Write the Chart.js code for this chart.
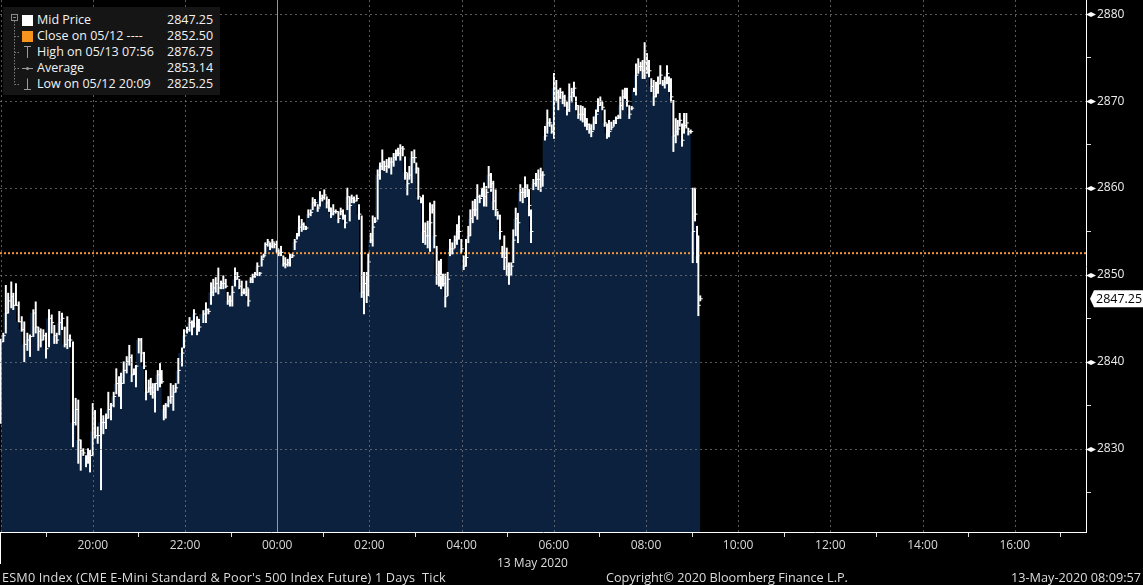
<!DOCTYPE html>
<html>
<head>
<meta charset="utf-8">
<script src="https://cdn.jsdelivr.net/npm/chart.js@4.4.1/dist/chart.umd.min.js"></script>
<style>
html,body{margin:0;padding:0;background:#000;}
#wrap{position:relative;width:1143px;height:585px;overflow:hidden;background:#000;font-family:"Open Sans",sans-serif;}
#c{position:absolute;left:0;top:0;}
.t{position:absolute;white-space:pre;font-size:12px;line-height:16px;color:#dcdcdc;}
.f{position:absolute;white-space:pre;font-size:12.7px;line-height:16px;color:#dcdcdc;}
.lt{position:absolute;white-space:pre;font-size:12.5px;line-height:16px;color:#f2f2f2;}
#leg{position:absolute;left:3px;top:7px;width:217px;height:88px;background:#151515;}
</style>
</head>
<body>
<div id="wrap">
  <canvas id="c" width="1143" height="585" style="width:1143px;height:585px"></canvas>
  <div id="leg"></div>
  <svg style="position:absolute;left:0;top:0" width="40" height="100">
    <rect x="11.5" y="14.5" width="6" height="6" fill="none" stroke="#8a8a8a" stroke-width="1"/>
    <line x1="13" y1="17.5" x2="16" y2="17.5" stroke="#8a8a8a" stroke-width="1"/>
    <line x1="14.5" y1="21" x2="14.5" y2="84.5" stroke="#7a7a7a" stroke-width="1" stroke-dasharray="1.5,1.5"/>
    <line x1="14.5" y1="36.5" x2="20" y2="36.5" stroke="#7a7a7a" stroke-width="1" stroke-dasharray="1.5,1.5"/>
    <line x1="14.5" y1="52.5" x2="20" y2="52.5" stroke="#7a7a7a" stroke-width="1" stroke-dasharray="1.5,1.5"/>
    <line x1="14.5" y1="68.5" x2="20" y2="68.5" stroke="#7a7a7a" stroke-width="1" stroke-dasharray="1.5,1.5"/>
    <line x1="14.5" y1="84.5" x2="20" y2="84.5" stroke="#7a7a7a" stroke-width="1" stroke-dasharray="1.5,1.5"/>
    <rect x="22" y="15" width="11" height="11" fill="#ffffff"/>
    <rect x="22" y="31" width="11" height="11" fill="#f7941d"/>
    <line x1="24" y1="46.5" x2="31" y2="46.5" stroke="#9a9a9a" stroke-width="1"/>
    <line x1="27.5" y1="46.5" x2="27.5" y2="58" stroke="#9a9a9a" stroke-width="1"/>
    <line x1="22" y1="68.5" x2="33" y2="68.5" stroke="#9a9a9a" stroke-width="1"/>
    <circle cx="27.5" cy="68.5" r="1.6" fill="#9a9a9a"/>
    <line x1="27.5" y1="78.5" x2="27.5" y2="89.5" stroke="#9a9a9a" stroke-width="1"/>
    <line x1="24" y1="89.5" x2="31" y2="89.5" stroke="#9a9a9a" stroke-width="1"/>
  </svg>
  <div class="lt" id="l1" style="left:37px;top:12px"></div><div class="lt" id="v1" style="left:167px;top:12px"></div>
  <div class="lt" id="l2" style="left:37px;top:28px"></div><div class="lt" id="v2" style="left:167px;top:28px"></div>
  <div class="lt" id="l3" style="left:37px;top:44px"></div><div class="lt" id="v3" style="left:167px;top:44px"></div>
  <div class="lt" id="l4" style="left:37px;top:60px"></div><div class="lt" id="v4" style="left:167px;top:60px"></div>
  <div class="lt" id="l5" style="left:37px;top:76px"></div><div class="lt" id="v5" style="left:167px;top:76px"></div>
  <div class="t" id="dateLbl" style="left:497px;top:555px"></div>
  <div class="f" id="foot1" style="left:2px;top:569px;letter-spacing:0.17px"></div>
  <div class="f" id="foot2" style="left:606px;top:569px"></div>
  <div class="f" id="foot3" style="right:2px;top:569px"></div>
</div>
<script>
// ---------------- DATA ----------------
// minutes after 18:00 on 12 May (bar timestamps)
const barTimes = [
0,3.5,6.8,9.8,13.9,16.5,20.0,23.6,27.5,30.8,34.8,38.3,42.6,45.7,49.1,52.2,55.6,59.1,63.0,66.5,
69.9,73.0,76.4,79.9,83.4,86.8,90.3,94.2,97.7,101.1,104.3,107.6,111.2,113.8,116.4,119.9,122.9,126.4,130.7,133.7,
137.2,140.2,143.7,147.2,150.6,154.1,156.7,160.2,164.1,167.5,170.6,173.6,176.2,179.8,183.1,186.7,189.3,192.8,195.4,198.0,
201.0,204.5,207.5,209.6,212.4,214.9,218.3,221.4,224.8,227.9,231.3,
236.1,238.7,242.6,245.9,249.1,251.7,255.7,
258.2,263.9,267.3,270.4,273.9,276.8,280.0,283.4,286.9,289.9,293.0,295.6,298.6,301.6,305.1,308.1,310.7,313.8,316.8,319.8,
322.4,325.5,328.1,331.1,334.1,337.2,339.8,342.4,344.5,347.7,350.7,353.6,356.3,359.4,361.9,365.0,368.0,370.6,373.7,376.7,
379.7,382.8,385.8,388.4,391.9,394.5,397.5,400.5,403.6,406.2,409.2,412.7,415.7,418.7,421.3,424.5,427.4,430.0,433.0,436.2,
439.6,442.7,445.7,448.3,451.3,454.4,457.0,460.0,
463.5,466.5,470.0,473.0,476.5,478.6,481.7,484.3,487.3,490.8,493.8,496.8,499.4,502.5,505.5,508.5,511.6,514.6,517.3,520.3,
523.4,526.4,529.4,532.0,535.1,538.5,541.1,543.7,547.2,549.8,552.8,555.9,558.9,561.9,564.5,567.6,570.6,573.2,575.8,578.8,
581.9,584.9,587.9,591.1,594.0,596.6,599.7,602.8,605.8,608.8,611.4,614.5,617.5,620.5,623.6,626.6,629.2,632.2,635.3,638.3,
641.3,644.4,647.0,650.0,653.0,655.6,658.8,661.7,664.7,667.3,670.5,673.4,676.5,679.6,682.6,685.6,
687.8,690.4,693.4,696.9,699.9,703.0,705.6,708.6,711.6,714.7,717.3,720.3,723.3,725.9,728.5,731.6,734.2,737.2,740.2,743.3,
746.3,748.9,751.9,755.1,757.7,760.6,763.2,766.2,768.8,772.0,775.0,777.6,780.6,783.2,786.3,789.3,791.9,794.9,798.1,801.0,
804.0,806.6,809.7,812.7,815.3,818.3,821.5,824.4,827.0,830.0,833.1,835.7,838.3,841.3,844.0,847.0,850.1,853.1,855.7,858.7,
861.9,864.5,867.4,870.0,872.6,875.7,878.8,881.4,884.0,887.0,889.6,892.6,895.2,898.3,900.9,903.9,906.5,908.2,910.7
];
const barHigh = [
2842.6,2843.3,2848.8,2847.9,2849.2,2847.9,2849.0,2846.9,2845.2,2844.6,2843.3,2843.1,2846.0,2846.9,2844.0,2843.8,2843.7,2843.3,2846.0,2845.4,
2844.2,2843.3,2845.8,2845.6,2844.0,2845.2,2843.1,2842.3,2835.8,2835.6,2831.0,2830.0,2829.2,2830.0,2829.8,2835.2,2834.4,2832.5,2834.6,2833.8,
2834.0,2836.5,2835.2,2836.5,2839.2,2838.3,2838.7,2840.0,2840.6,2841.9,2840.8,2839.2,2839.6,2842.7,2842.7,2841.1,2839.0,2837.9,2838.1,2837.5,
2837.5,2839.0,2839.8,2839.0,2835.0,2835.2,2836.0,2837.5,2837.3,2837.5,2840.4,
2841.6,2843.7,2844.0,2845.1,2844.7,2846.0,2845.2,
2844.9,2845.9,2846.8,2846.1,2849.1,2849.5,2849.7,2850.8,2849.3,2849.9,2849.5,2848.0,2847.6,2848.7,2850.8,2850.3,2849.5,2849.3,2848.4,2849.3,
2848.4,2849.7,2850.1,2850.3,2851.4,2850.3,2852.2,2852.4,2853.7,2854.1,2853.7,2854.1,2853.7,2853.9,2852.9,2853.3,2852.2,2852.0,2851.8,2852.4,
2852.4,2854.1,2854.8,2856.8,2856.4,2856.0,2855.6,2857.5,2857.5,2858.9,2858.7,2858.1,2859.6,2859.2,2859.8,2859.0,2858.7,2857.7,2858.1,2857.5,
2857.3,2857.7,2857.5,2856.9,2860.0,2859.0,2859.2,2859.0,
2859.2,2858.1,2856.8,2850.3,2850.3,2852.4,2854.8,2856.8,2856.6,2862.1,2862.9,2864.4,2863.1,2863.3,2863.5,2863.5,2864.0,2864.4,2864.6,2865.0,
2864.8,2863.6,2861.7,2862.5,2864.2,2864.4,2862.9,2862.3,2858.9,2859.2,2856.0,2856.2,2858.3,2858.1,2858.5,2853.3,2851.6,2851.8,2850.1,2850.1,
2850.3,2854.1,2853.7,2854.5,2855.8,2856.8,2854.1,2852.2,2854.1,2855.6,2857.5,2858.5,2858.7,2860.4,2859.2,2860.0,2860.6,2860.2,2862.5,2861.7,
2860.8,2859.8,2857.3,2856.9,2853.3,2854.5,2853.1,2851.4,2851.4,2855.2,2857.7,2857.1,2860.4,2860.0,2861.3,2860.4,
2859.8,2857.5,2861.0,2861.7,2862.1,2862.3,2861.9,2867.1,2869.0,2868.0,2867.3,2873.2,2872.4,2871.3,2871.5,2871.1,2870.7,2869.9,2872.0,2871.5,
2872.2,2870.5,2869.5,2869.5,2869.4,2869.2,2868.0,2867.4,2867.3,2868.2,2869.0,2870.3,2870.5,2869.9,2869.0,2867.4,2867.8,2867.6,2867.8,2868.2,
2868.4,2870.5,2871.3,2871.5,2871.5,2869.5,2869.4,2871.5,2874.3,2874.9,2874.5,2874.7,2876.75,2875.5,2874.7,2872.6,2872.4,2872.2,2872.8,2874.1,
2872.4,2872.8,2874.1,2872.8,2872.6,2870.1,2868.0,2867.8,2868.6,2867.4,2868.6,2868.6,2866.9,2866.7,2860.0,2860.0,2855.6,2854.5,2847.6
];
const barLow = [
2832.9,2842.3,2843.3,2845.6,2846.2,2846.0,2846.5,2844.6,2843.5,2840.0,2841.3,2840.6,2842.9,2843.3,2841.3,2841.7,2842.5,2840.4,2841.7,2843.3,
2842.1,2842.1,2843.1,2843.7,2841.7,2841.5,2841.7,2830.2,2832.7,2828.3,2827.5,2829.2,2827.9,2828.3,2827.3,2829.2,2831.2,2830.6,2825.25,2831.7,
2832.3,2833.5,2833.3,2834.8,2836.3,2836.0,2834.6,2837.5,2838.7,2839.6,2837.7,2838.5,2837.1,2841.0,2840.0,2839.2,2835.6,2836.5,2836.2,2835.8,
2834.2,2836.7,2837.1,2837.5,2833.3,2833.5,2834.8,2835.2,2834.4,2836.5,2837.5,
2839.5,2841.6,2843.3,2843.5,2843.1,2844.0,2843.1,
2843.5,2844.5,2844.5,2845.5,2846.6,2847.6,2848.0,2847.8,2848.4,2848.4,2848.5,2846.6,2846.4,2846.4,2848.7,2849.5,2848.4,2847.6,2847.8,2847.6,
2846.4,2849.1,2849.1,2849.7,2849.9,2849.9,2851.0,2852.0,2852.4,2853.3,2852.9,2853.1,2853.1,2852.6,2852.2,2852.2,2851.0,2850.8,2851.0,2851.0,
2852.0,2852.9,2854.1,2854.5,2855.0,2855.2,2855.2,2856.6,2856.8,2857.5,2857.9,2857.3,2857.9,2858.5,2858.7,2857.7,2857.3,2856.6,2856.9,2857.1,
2856.0,2856.9,2856.4,2855.4,2857.5,2856.2,2858.3,2858.3,
2858.5,2856.4,2847.4,2845.5,2846.8,2847.6,2853.7,2853.3,2856.0,2856.4,2861.0,2862.1,2862.0,2861.8,2862.3,2861.6,2862.5,2863.2,2863.7,2863.2,
2863.7,2861.0,2859.2,2861.0,2860.6,2862.9,2861.7,2858.7,2858.3,2853.7,2853.5,2853.1,2852.7,2857.1,2853.1,2848.9,2848.7,2848.4,2848.7,2846.3,
2847.6,2852.2,2852.4,2853.1,2853.5,2854.1,2852.6,2850.6,2851.0,2853.7,2854.5,2856.0,2856.8,2856.4,2858.3,2859.0,2857.9,2857.9,2860.0,2859.6,
2857.5,2856.8,2856.4,2854.1,2852.0,2850.6,2849.9,2848.9,2849.9,2851.4,2854.5,2853.7,2858.5,2858.3,2858.9,2859.0,
2856.8,2853.7,2859.8,2860.2,2859.8,2859.6,2860.2,2865.5,2866.3,2867.1,2866.3,2865.7,2869.9,2869.0,2870.3,2869.7,2869.4,2868.4,2868.8,2869.9,
2870.5,2869.0,2868.0,2867.8,2867.6,2867.1,2866.7,2866.3,2865.9,2866.7,2867.4,2868.8,2869.5,2869.0,2867.1,2865.7,2865.9,2866.7,2867.1,2867.4,
2868.0,2868.0,2869.0,2870.3,2869.4,2868.0,2869.0,2871.1,2870.7,2873.2,2873.5,2872.6,2872.6,2873.2,2872.8,2871.1,2869.5,2870.5,2870.9,2872.0,
2871.8,2871.5,2872.0,2871.1,2869.9,2864.2,2865.2,2866.1,2867.1,2864.8,2866.3,2866.9,2866.1,2866.3,2851.4,2856.2,2851.4,2845.3,2847.0
];
const barClose = [
2842.3,2843.0,2845.6,2847.0,2847.5,2846.5,2846.5,2844.6,2843.7,2842.0,2842.5,2842.9,2845.6,2844.0,2843.5,2842.5,2843.0,2841.5,2845.0,2844.5,
2843.0,2842.5,2844.5,2845.0,2842.0,2842.5,2842.5,2833.0,2834.5,2831.0,2829.8,2829.5,2829.0,2829.5,2829.2,2832.0,2831.5,2831.5,2833.0,2833.0,
2833.5,2834.5,2835.0,2836.0,2837.5,2837.5,2837.5,2839.0,2840.0,2840.5,2838.5,2838.7,2839.5,2842.5,2841.0,2839.5,2836.5,2837.0,2837.0,2836.5,
2837.5,2838.5,2838.0,2837.7,2834.5,2835.0,2835.5,2836.0,2836.5,2837.0,2839.0,
2841.0,2843.0,2843.7,2844.5,2844.0,2845.5,2844.5,
2844.0,2845.5,2846.0,2845.8,2848.0,2848.5,2849.0,2848.5,2849.0,2849.0,2848.7,2847.0,2847.0,2848.0,2849.5,2849.8,2848.7,2848.0,2848.0,2848.5,
2847.0,2849.5,2849.8,2850.0,2851.0,2850.2,2851.8,2852.2,2853.5,2853.8,2853.3,2853.8,2853.5,2853.0,2852.5,2852.6,2851.3,2851.2,2851.4,2852.0,
2852.2,2853.8,2854.5,2855.5,2855.8,2855.6,2855.4,2857.0,2857.2,2858.3,2858.3,2857.7,2858.8,2858.9,2859.2,2858.3,2857.7,2857.0,2857.3,2857.3,
2856.5,2857.3,2856.8,2856.0,2859.0,2858.0,2858.8,2858.5,
2858.8,2857.0,2848.0,2849.0,2849.5,2851.5,2854.0,2855.5,2856.2,2861.5,2862.5,2863.0,2862.5,2862.5,2863.0,2863.0,2863.5,2864.0,2864.0,2864.6,
2864.5,2861.8,2860.5,2861.5,2863.5,2863.5,2862.3,2859.0,2858.5,2855.0,2854.5,2854.5,2856.0,2857.5,2854.5,2850.0,2850.0,2849.5,2849.0,2847.5,
2849.5,2853.0,2853.0,2854.0,2855.0,2855.0,2853.0,2851.0,2852.0,2854.5,2856.5,2857.5,2857.5,2859.0,2858.8,2859.7,2859.0,2859.5,2861.5,2860.5,
2858.5,2857.5,2856.8,2855.0,2852.5,2852.0,2851.0,2850.0,2851.0,2854.0,2856.5,2856.0,2859.5,2859.5,2860.0,2859.8,
2858.0,2855.0,2860.5,2861.0,2861.0,2861.5,2861.5,2866.0,2867.5,2867.5,2866.5,2871.5,2871.0,2870.5,2871.0,2870.5,2870.0,2869.0,2870.5,2871.0,
2871.5,2869.5,2868.5,2868.5,2868.5,2868.0,2867.3,2866.8,2866.5,2867.5,2868.5,2869.5,2870.0,2869.3,2867.5,2866.3,2866.5,2867.0,2867.5,2868.0,
2868.2,2869.5,2870.5,2871.0,2870.0,2868.5,2869.2,2871.3,2873.0,2874.0,2874.0,2873.5,2874.5,2874.0,2873.5,2871.7,2870.5,2871.5,2872.0,2873.0,
2872.0,2872.2,2873.2,2871.8,2870.5,2866.0,2866.5,2866.8,2867.8,2865.5,2867.2,2867.5,2866.5,2866.5,2855.0,2857.0,2852.2,2846.5,2847.25
];
const prevClose = 2852.50;                 // Close on 05/12
const lastPrice = 2847.25;                 // Mid Price
const legendLabels = ["Mid Price", "Close on 05/12 ----", "High on 05/13 07:56", "Average", "Low on 05/12 20:09"];
const legendValues = [2847.25, 2852.50, 2876.75, 2853.14, 2825.25];
const yTickValues = [2825, 2830, 2835, 2840, 2845, 2850, 2855, 2860, 2865, 2870, 2875, 2880];
const xTickMinutes = [0,60,120,180,240,300,360,420,480,540,600,660,720,780,840,900,960,1020,1080,1140,1200,1260,1320,1380];
const dateLabel = "13 May 2020";
const footerLeft = "ESM0 Index (CME E-Mini Standard & Poor's 500 Index Future) 1 Days  Tick";
const footerMid = "Copyright\u00A9 2020 Bloomberg Finance L.P.";
const footerRight = "13-May-2020 08:09:57";

// ---------------- STYLE / LAYOUT ----------------
const X_MIN = -0.8, X_MAX = 1412.8;
const Y_MIN = 2820.4, Y_MAX = 2881.65;
const MIDNIGHT = 360;
const TICK_SHIFT = 1.5;
const NAVY = 'rgba(12,36,66,0.92)';
const ORANGE = '#f0943c';
const GRID = 'rgba(125,125,125,0.7)';

legendLabels.forEach((s, i) => { document.getElementById('l' + (i + 1)).textContent = s; });
legendValues.forEach((v, i) => { document.getElementById('v' + (i + 1)).textContent = v.toFixed(2); });
document.getElementById('dateLbl').textContent = dateLabel;
document.getElementById('foot1').textContent = footerLeft;
document.getElementById('foot2').textContent = footerMid;
document.getElementById('foot3').textContent = footerRight;

const rangeData = barTimes.map((t, i) => ({ x: t, y: [barLow[i], barHigh[i]] }));
const closeTicks = barTimes.map((t, i) => ({ x: t + TICK_SHIFT, y: barClose[i] }));
const fillData = barTimes.map((t, i) => ({ x: t, y: barClose[i] }));

const gridOverlay = {
  id: 'gridOverlay',
  afterDatasetsDraw(chart) {
    const c = chart.ctx, xs = chart.scales.x, ys = chart.scales.y, a = chart.chartArea;
    c.save();
    c.lineWidth = 1;
    c.strokeStyle = GRID;
    c.setLineDash([2, 3]);
    yTickValues.filter(v => v % 10 === 0).forEach(v => {
      const y = Math.round(ys.getPixelForValue(v)) + 0.5;
      c.beginPath(); c.moveTo(a.left, y); c.lineTo(a.right, y); c.stroke();
    });
    xTickMinutes.filter(v => v % 120 === 0 && v !== MIDNIGHT).forEach(v => {
      const x = Math.round(xs.getPixelForValue(v)) + 0.5;
      c.beginPath(); c.moveTo(x, a.top); c.lineTo(x, a.bottom); c.stroke();
    });
    c.setLineDash([]);
    c.strokeStyle = 'rgba(185,185,185,0.8)';
    const xm = Math.round(xs.getPixelForValue(MIDNIGHT)) + 0.5;
    c.beginPath(); c.moveTo(xm, a.top); c.lineTo(xm, a.bottom); c.stroke();
    c.restore();
  },
  afterDraw(chart) {
    const c = chart.ctx, ys = chart.scales.y, area = chart.chartArea;
    c.save();
    c.fillStyle = '#ffffff';
    yTickValues.filter(v => v % 10 === 0).forEach(v => {
      const y = Math.round(ys.getPixelForValue(v)) + 0.5;
      const x0 = area.right + 1;
      c.beginPath();
      c.moveTo(x0, y - 0.6);
      c.lineTo(x0 + 4, y - 2.6);
      c.lineTo(x0 + 9, y);
      c.lineTo(x0 + 4, y + 2.6);
      c.lineTo(x0, y + 0.6);
      c.closePath();
      c.fill();
    });
    c.fillRect(0, area.bottom, 1, 32);
    const py = ys.getPixelForValue(lastPrice);
    const left = area.right + 4;
    c.beginPath();
    c.moveTo(left, py);
    c.lineTo(left + 4, py - 8.5);
    c.lineTo(chart.width, py - 8.5);
    c.lineTo(chart.width, py + 8.5);
    c.lineTo(left + 4, py + 8.5);
    c.closePath();
    c.fillStyle = '#ffffff';
    c.fill();
    c.fillStyle = '#000000';
    c.font = '12.5px "Open Sans"';
    c.textBaseline = 'middle';
    c.textAlign = 'left';
    c.fillText(lastPrice.toFixed(2), left + 6, py + 0.5);
    c.restore();
  }
};

new Chart(document.getElementById('c'), {
  type: 'bar',
  data: {
    datasets: [
      { type: 'line', data: fillData, stepped: 'after', fill: 'start', backgroundColor: NAVY,
        borderWidth: 0, borderColor: 'rgba(0,0,0,0)', pointRadius: 0, order: 3 },
      { type: 'line', data: [{ x: X_MIN, y: prevClose }, { x: X_MAX, y: prevClose }],
        borderColor: ORANGE, borderWidth: 2, borderDash: [2, 2], pointRadius: 0, fill: false, order: 2 },
      { type: 'bar', data: rangeData, backgroundColor: '#ffffff', barThickness: 1.3, grouped: false,
        borderWidth: 0, order: 1 },
      { type: 'scatter', data: closeTicks, pointStyle: 'line', pointRadius: 1.3, borderColor: '#ffffff',
        borderWidth: 1, order: 0 }
    ]
  },
  options: {
    responsive: false,
    animation: false,
    events: [],
    layout: { padding: 0, autoPadding: false },
    plugins: { legend: { display: false }, tooltip: { enabled: false } },
    scales: {
      x: {
        type: 'linear', min: X_MIN, max: X_MAX, offset: false,
        afterBuildTicks: s => { s.ticks = xTickMinutes.map(v => ({ value: v })); },
        afterFit: s => { s.height = 53; s.paddingLeft = 0; s.paddingRight = 0; },
        ticks: {
          autoSkip: false, maxRotation: 0, color: '#d8d8d8', padding: 1,
          font: { family: 'Open Sans', size: 12 },
          callback: v => {
            if (v <= 0 || v % 120 !== 0) return '';
            const h = (18 + v / 60) % 24;
            return String(h).padStart(2, '0') + ':00';
          }
        },
        grid: {
          offset: false, drawOnChartArea: false, drawTicks: true, tickLength: 5, tickWidth: 1,
          color: 'rgba(0,0,0,0)',
          tickColor: ctx => {
            const v = ctx.tick ? ctx.tick.value : -1;
            return v % 120 === 60 ? '#dddddd' : 'rgba(0,0,0,0)';
          }
        },
        border: { display: true, color: '#ffffff', width: 1 }
      },
      y: {
        type: 'linear', position: 'right', min: Y_MIN, max: Y_MAX,
        afterBuildTicks: s => { s.ticks = yTickValues.map(v => ({ value: v })); },
        afterFit: s => { s.width = 57; s.paddingTop = 0; s.paddingBottom = 0; },
        ticks: {
          autoSkip: false, color: '#ececec', padding: 6,
          font: { family: 'Open Sans', size: 12 },
          callback: v => (v % 10 === 0 ? String(v) : '')
        },
        grid: {
          drawOnChartArea: false, drawTicks: true, tickLength: 5, tickWidth: 1,
          color: 'rgba(0,0,0,0)',
          tickColor: ctx => (ctx.tick && ctx.tick.value % 10 !== 0) ? '#dddddd' : 'rgba(0,0,0,0)'
        },
        border: { display: true, color: '#ffffff', width: 1 }
      }
    }
  },
  plugins: [gridOverlay]
});
</script>
</body>
</html>
